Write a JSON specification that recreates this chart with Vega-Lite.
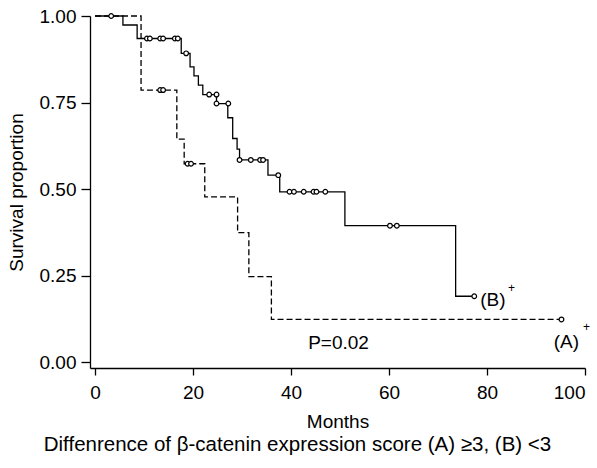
{
  "$schema": "https://vega.github.io/schema/vega-lite/v6.json",
  "width": 495,
  "height": 352,
  "autosize": {"type": "none"},
  "padding": {"left": 90, "top": 16, "right": 12, "bottom": 100},
  "background": "white",
  "config": {
    "view": {"stroke": null},
    "font": "Liberation Sans",
    "axis": {
      "domainColor": "black", "domainWidth": 1.3, "tickColor": "black", "tickWidth": 1.3,
      "labelColor": "black", "labelFontSize": 19, "labelFont": "Liberation Sans",
      "titleColor": "black", "titleFontSize": 19, "titleFont": "Liberation Sans", "titleFontWeight": "normal",
      "grid": false
    }
  },
  "title": {
    "text": "Diffenrence of β-catenin expression score (A) ≥3, (B) <3",
    "orient": "bottom", "anchor": "middle", "dx": -40, "offset": 4,
    "fontSize": 20.5, "fontWeight": "normal", "font": "Liberation Sans", "color": "black"
  },
  "datasets": {
    "curves": [
      {"group": "B", "month": 0, "surv": 1.0},
      {"group": "B", "month": 5.7, "surv": 0.974},
      {"group": "B", "month": 8.6, "surv": 0.935},
      {"group": "B", "month": 17.6, "surv": 0.892},
      {"group": "B", "month": 19.4, "surv": 0.853},
      {"group": "B", "month": 20.2, "surv": 0.827},
      {"group": "B", "month": 21.1, "surv": 0.8},
      {"group": "B", "month": 22.0, "surv": 0.773},
      {"group": "B", "month": 24.8, "surv": 0.747},
      {"group": "B", "month": 27.1, "surv": 0.706},
      {"group": "B", "month": 28.1, "surv": 0.646},
      {"group": "B", "month": 29.0, "surv": 0.615},
      {"group": "B", "month": 29.5, "surv": 0.584},
      {"group": "B", "month": 35.3, "surv": 0.54},
      {"group": "B", "month": 37.7, "surv": 0.492},
      {"group": "B", "month": 51.0, "surv": 0.394},
      {"group": "B", "month": 73.6, "surv": 0.19},
      {"group": "B", "month": 77.4, "surv": 0.19},
      {"group": "A", "month": 0, "surv": 1.0},
      {"group": "A", "month": 9.4, "surv": 0.786},
      {"group": "A", "month": 16.7, "surv": 0.644},
      {"group": "A", "month": 18.2, "surv": 0.573},
      {"group": "A", "month": 22.4, "surv": 0.477},
      {"group": "A", "month": 29.1, "surv": 0.374},
      {"group": "A", "month": 31.4, "surv": 0.247},
      {"group": "A", "month": 36.0, "surv": 0.123},
      {"group": "A", "month": 95.2, "surv": 0.123}
    ],
    "censors": [
      {"group": "B", "month": 3.3, "surv": 1.0},
      {"group": "B", "month": 10.6, "surv": 0.935},
      {"group": "B", "month": 11.2, "surv": 0.935},
      {"group": "B", "month": 13.3, "surv": 0.935},
      {"group": "B", "month": 13.9, "surv": 0.935},
      {"group": "B", "month": 16.3, "surv": 0.935},
      {"group": "B", "month": 16.9, "surv": 0.935},
      {"group": "B", "month": 18.6, "surv": 0.892},
      {"group": "B", "month": 23.3, "surv": 0.773},
      {"group": "B", "month": 24.8, "surv": 0.773},
      {"group": "B", "month": 24.8, "surv": 0.747},
      {"group": "B", "month": 27.2, "surv": 0.747},
      {"group": "B", "month": 29.5, "surv": 0.584},
      {"group": "B", "month": 31.8, "surv": 0.584},
      {"group": "B", "month": 33.7, "surv": 0.584},
      {"group": "B", "month": 34.3, "surv": 0.584},
      {"group": "B", "month": 37.4, "surv": 0.54},
      {"group": "B", "month": 39.7, "surv": 0.492},
      {"group": "B", "month": 40.6, "surv": 0.492},
      {"group": "B", "month": 42.6, "surv": 0.492},
      {"group": "B", "month": 44.6, "surv": 0.492},
      {"group": "B", "month": 45.2, "surv": 0.492},
      {"group": "B", "month": 47.0, "surv": 0.492},
      {"group": "B", "month": 60.2, "surv": 0.394},
      {"group": "B", "month": 61.6, "surv": 0.394},
      {"group": "B", "month": 77.4, "surv": 0.19},
      {"group": "A", "month": 13.3, "surv": 0.786},
      {"group": "A", "month": 13.9, "surv": 0.786},
      {"group": "A", "month": 18.9, "surv": 0.573},
      {"group": "A", "month": 19.6, "surv": 0.573},
      {"group": "A", "month": 95.2, "surv": 0.123}
    ],
    "labels": [
      {"month": 43.5, "surv": 0.054, "label": "P=0.02", "size": 19},
      {"month": 78.6, "surv": 0.178, "label": "(B)", "size": 19},
      {"month": 84.3, "surv": 0.215, "label": "+", "size": 12},
      {"month": 93.6, "surv": 0.059, "label": "(A)", "size": 19},
      {"month": 99.6, "surv": 0.1, "label": "+", "size": 12}
    ]
  },
  "layer": [
    {
      "data": {"name": "curves"},
      "mark": {"type": "line", "interpolate": "step-after", "color": "black", "strokeWidth": 1.3},
      "encoding": {
        "x": {"field": "month", "type": "quantitative", "scale": {"domain": [-1.02, 100], "nice": false, "zero": false},
              "axis": {"values": [0, 20, 40, 60, 80, 100], "title": "Months", "tickSize": 7, "labelPadding": 8, "titlePadding": 10}},
        "y": {"field": "surv", "type": "quantitative", "scale": {"domain": [-0.0173, 1.0], "nice": false, "zero": false},
              "axis": {"values": [0, 0.25, 0.5, 0.75, 1.0], "format": ".2f", "title": "Survival proportion", "tickSize": 9, "labelPadding": 5, "titlePadding": 13}},
        "detail": {"field": "group", "type": "nominal"},
        "strokeDash": {"field": "group", "type": "nominal", "scale": {"domain": ["A", "B"], "range": [[6, 3], [1, 0]]}, "legend": null}
      }
    },
    {
      "data": {"name": "censors"},
      "mark": {"type": "point", "shape": "circle", "filled": false, "fill": "white", "fillOpacity": 1, "stroke": "black", "strokeWidth": 1.2, "size": 22, "opacity": 1},
      "encoding": {
        "x": {"field": "month", "type": "quantitative"},
        "y": {"field": "surv", "type": "quantitative"}
      }
    },
    {
      "data": {"name": "labels"},
      "mark": {"type": "text", "align": "left", "baseline": "middle", "fill": "black", "color": "black", "font": "Liberation Sans"},
      "encoding": {
        "x": {"field": "month", "type": "quantitative"},
        "y": {"field": "surv", "type": "quantitative"},
        "text": {"field": "label", "type": "nominal"},
        "size": {"field": "size", "type": "quantitative", "scale": null}
      }
    }
  ]
}
